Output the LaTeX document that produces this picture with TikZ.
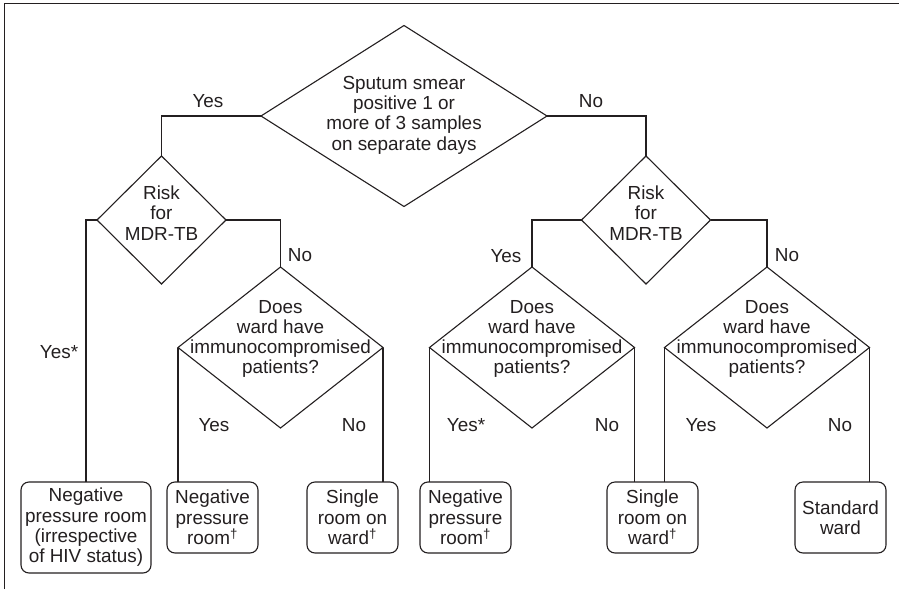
\documentclass[tikz,border=0pt]{standalone}
\usepackage{fontspec}
\setmainfont{Liberation Sans}
\usetikzlibrary{shapes.geometric}
\definecolor{ink}{HTML}{231F20}
\begin{document}
\begin{tikzpicture}[x=1pt, y=-1pt,
  txt/.style={font=\fontsize{18.9}{20.3}\selectfont, text=ink, align=center, inner sep=0pt},
  lbl/.style={txt, anchor=base},
  decision/.style={diamond, draw=ink, line width=1.1pt, inner sep=0pt, outer sep=0pt},
  bigdec/.style={decision, minimum width=286pt, minimum height=181pt},
  riskdec/.style={decision, minimum width=129pt, minimum height=128pt},
  warddec/.style={decision, minimum width=205pt, minimum height=161pt},
  outcome/.style={txt, rectangle, rounded corners=8pt, draw=ink, line width=1.1pt, outer sep=0pt, minimum width=91pt, minimum height=71pt},
  link/.style={line width=1.1pt, draw=ink}
]
\useasboundingbox (0,0) rectangle (899,589);

% open frame along the top and left edges
\draw[link] (4.5,589) -- (4.5,3.5) -- (899,3.5);

% decisions
\node[bigdec] (smear) at (404,116) {};
\node[txt] (smeartxt) at (404,115) {Sputum smear\\positive 1 or\\more of 3 samples\\on separate days};

\node[riskdec] (riskL) at (161.5,220) {};
\node[txt] (riskLtxt) at (161.5,213) {Risk\\for\\MDR-TB};
\node[riskdec] (riskR) at (646,220) {};
\node[txt] (riskRtxt) at (646,213) {Risk\\for\\MDR-TB};

\node[warddec] (wardA) at (280.5,347.5) {};
\node[txt] (wardAtxt) at (280.5,339) {Does\\ward have\\immunocompromised\\patients?};
\node[warddec] (wardB) at (532,347.5) {};
\node[txt] (wardBtxt) at (532,339) {Does\\ward have\\immunocompromised\\patients?};
\node[warddec] (wardC) at (767,347.5) {};
\node[txt] (wardCtxt) at (767,339) {Does\\ward have\\immunocompromised\\patients?};

% outcomes
\node[outcome, minimum width=130pt, minimum height=91pt] (negHIV) at (86,527.5) {Negative\\pressure room\\(irrespective\\of HIV status)};
\node[outcome] (negA) at (212.5,517.5) {Negative\\pressure\\room\textsuperscript{†}};
\node[outcome] (singleA) at (352.5,517.5) {Single\\room on\\ward\textsuperscript{†}};
\node[outcome] (negB) at (465.5,517.5) {Negative\\pressure\\room\textsuperscript{†}};
\node[outcome] (singleB) at (652.5,517.5) {Single\\room on\\ward\textsuperscript{†}};
\node[outcome] (standard) at (840.5,517.5) {Standard\\ward};

% connectors
\draw[link] (smear.west) -| (riskL.north);
\draw[link] (smear.east) -| (riskR.north);
\draw[link] (riskL.west) -| (negHIV.north);
\draw[link] (riskL.east) -| (wardA.north);
\draw[link] (riskR.west) -| (wardB.north);
\draw[link] (riskR.east) -| (wardC.north);
\draw[link] (wardA.west) -- (wardA.west |- negA.north);
\draw[link] (wardA.east) -- (wardA.east |- singleA.north);
\draw[link] (wardB.west) -- (wardB.west |- negB.north);
\draw[link] (wardB.east) -- (wardB.east |- singleB.north);
\draw[link] (wardC.west) -- (wardC.west |- singleB.north);
\draw[link] (wardC.east) -- (wardC.east |- standard.north);

% branch labels
\node[lbl] (y0) at (208,107.75) {Yes};
\node[lbl] (n0) at (591,107.75) {No};
\node[lbl] (y1) at (59,358.75) {Yes*};
\node[lbl] (n1) at (300,261.75) {No};
\node[lbl] (y2) at (506,262.75) {Yes};
\node[lbl] (n2) at (787,261.75) {No};
\node[lbl] (y3) at (214,431.75) {Yes};
\node[lbl] (n3) at (354,431.75) {No};
\node[lbl] (y4) at (466,431.75) {Yes*};
\node[lbl] (n4) at (607,431.75) {No};
\node[lbl] (y5) at (701,431.75) {Yes};
\node[lbl] (n5) at (840,431.75) {No};
\end{tikzpicture}
\end{document}
